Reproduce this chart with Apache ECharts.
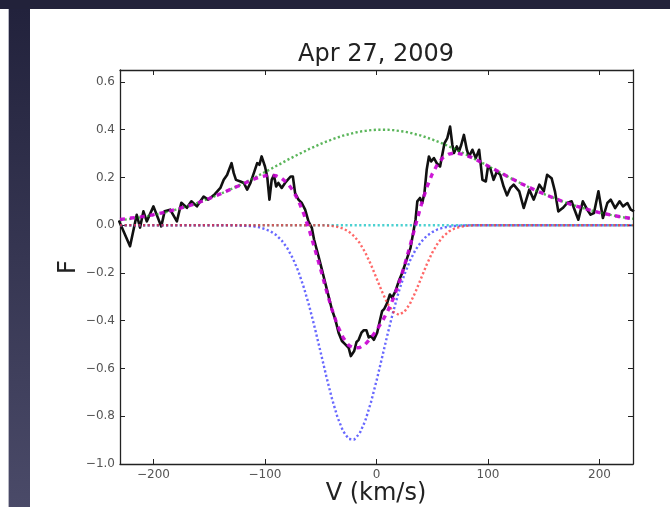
<!DOCTYPE html>
<html>
<head>
<meta charset="utf-8">
<script src="https://cdn.jsdelivr.net/npm/echarts@6/dist/echarts.min.js"></script>
<style>
html,body{margin:0;padding:0;background:#fff;}
#wrap{position:relative;width:670px;height:507px;overflow:hidden;background:#fff;}
#topband{position:absolute;left:0;top:0;width:670px;height:9px;background:#22223a;}
#leftband{position:absolute;left:8px;top:9px;width:21px;height:498px;background:linear-gradient(#22223c,#4a4a68);border-left:1px solid #b8b8c4;}
#chart{position:absolute;left:0;top:0;width:670px;height:507px;}
</style>
</head>
<body>
<div id="wrap">
<div id="topband"></div>
<div id="leftband"></div>
<div id="chart"></div>
</div>
<script>
// Observed spectrum (black)
const velObs = [-231,-221,-215,-212,-209,-206,-200,-193,-190,-185,-179,-175,-170,-166,-161,-155,-151,-145,-140,-137,-134,-130,-128,-126,-122,-119,-116,-113,-110,-107,-105,-103,-100,-98,-96,-94,-92,-90,-88,-85,-82,-77,-75,-73,-70,-67,-64,-61,-58,-56,-52,-49,-46,-43,-40,-37,-34,-31,-28,-25,-23,-20,-18,-16,-13.5,-11.4,-9,-7,-4.8,-2.4,0.6,3,5,7,9.6,12,14,17,20,23,27,30.5,35,36.6,39,41,43,45,47,49,51.5,54,57,59,61,63.5,66,68,69.5,72,74,76,78.4,81,83,86,89,92,95,98,100,102,105,108,111,114,117,120,123,128,132,137,141,146,150,153,157,160,163,167,171,175,177,181,185,189,192,195,199,203,207,210,214,218,221,225,228,231];
const fluxObs = [0.02,-0.088,0.044,-0.01,0.058,0.016,0.079,-0.005,0.058,0.065,0.016,0.094,0.073,0.10,0.079,0.12,0.107,0.13,0.156,0.19,0.21,0.26,0.218,0.19,0.183,0.177,0.149,0.177,0.218,0.26,0.253,0.288,0.246,0.204,0.107,0.19,0.21,0.162,0.177,0.156,0.177,0.204,0.204,0.135,0.107,0.093,0.065,0.016,-0.011,-0.06,-0.13,-0.185,-0.241,-0.297,-0.353,-0.394,-0.45,-0.485,-0.499,-0.513,-0.548,-0.527,-0.49,-0.48,-0.45,-0.44,-0.44,-0.47,-0.465,-0.48,-0.45,-0.40,-0.36,-0.35,-0.325,-0.29,-0.304,-0.276,-0.234,-0.2,-0.144,-0.095,0.023,0.1,0.114,0.093,0.135,0.232,0.288,0.267,0.281,0.26,0.246,0.295,0.344,0.365,0.413,0.337,0.302,0.33,0.309,0.337,0.378,0.316,0.288,0.316,0.281,0.316,0.19,0.183,0.246,0.239,0.19,0.225,0.211,0.162,0.125,0.156,0.17,0.142,0.072,0.149,0.107,0.17,0.142,0.211,0.197,0.142,0.058,0.072,0.093,0.1,0.072,0.023,0.1,0.065,0.044,0.051,0.142,0.03,0.093,0.107,0.072,0.1,0.079,0.093,0.065,0.058];

// Model components
const velModel = [-230,-220,-210,-200,-190,-180,-170,-160,-150,-140,
  -130,-125,-120,-115,-110,-105,-100,-95,-90,-85,-80,-75,-70,-65,-60,-55,-50,-45,-40,-35,-30,-25,-20,-15,-10,-5,0,5,10,15,20,25,30,35,40,45,50,55,60,65,70,75,80,85,90,
  100,110,120,130,140,150,160,170,180,190,200,210,220,230];
const greenComp = [0.021,0.027,0.034,0.043,0.053,0.065,0.079,0.094,0.112,0.131,
  0.152,0.163,0.174,0.186,0.198,0.210,0.223,0.235,0.248,0.260,0.273,0.285,0.297,0.308,0.320,0.330,0.341,0.350,0.359,0.367,0.375,0.381,0.387,0.392,0.395,0.398,0.400,0.400,0.400,0.398,0.395,0.392,0.387,0.381,0.375,0.367,0.359,0.350,0.341,0.330,0.320,0.308,0.297,0.285,0.273,
  0.248,0.223,0.198,0.174,0.152,0.131,0.112,0.094,0.079,0.065,0.053,0.043,0.034,0.027];
const blueComp = [0,0,0,0,0,0,0,0,0,0,
  0,-0.001,-0.002,-0.003,-0.005,-0.009,-0.016,-0.026,-0.041,-0.064,-0.096,-0.139,-0.194,-0.263,-0.344,-0.436,-0.534,-0.633,-0.725,-0.804,-0.862,-0.895,-0.898,-0.871,-0.818,-0.742,-0.652,-0.554,-0.455,-0.362,-0.278,-0.207,-0.149,-0.103,-0.070,-0.045,-0.029,-0.017,-0.010,-0.006,-0.003,-0.002,-0.001,0,0,
  0,0,0,0,0,0,0,0,0,0,0,0,0,0];
const redComp = [0,0,0,0,0,0,0,0,0,0,
  0,0,0,0,0,0,0,0,0,0,0,0,0,0,0,0,0,-0.001,-0.003,-0.007,-0.014,-0.026,-0.046,-0.075,-0.115,-0.165,-0.222,-0.279,-0.329,-0.363,-0.375,-0.363,-0.329,-0.279,-0.222,-0.165,-0.115,-0.075,-0.046,-0.026,-0.014,-0.007,-0.003,-0.001,0,
  0,0,0,0,0,0,0,0,0,0,0,0,0,0];
const cyanComp = [0,0,0,0,0,0,0,0,0,0,
  0,0,0,0,0,0,0,0,0,0,0,0,0,0,0,0,0,0,0,0,0,0,0,0,0,0,0,0,0,0,0,0,0,0,0,0,0,0,0,0,0,0,0,0,0,
  0,0,0,0,0,0,0,0,0,0,0,0,0,0];
const fitModel = [0.024,0.030,0.036,0.044,0.054,0.066,0.079,0.094,0.112,0.131,
  0.152,0.162,0.172,0.183,0.193,0.201,0.207,0.209,0.207,0.196,0.177,0.146,0.103,0.045,-0.024,-0.104,-0.186,-0.272,-0.352,-0.420,-0.470,-0.503,-0.515,-0.512,-0.498,-0.472,-0.440,-0.404,-0.360,-0.308,-0.245,-0.170,-0.088,0.000,0.083,0.157,0.215,0.258,0.285,0.298,0.303,0.299,0.293,0.284,0.273,
  0.248,0.223,0.198,0.174,0.152,0.131,0.112,0.094,0.079,0.065,0.053,0.043,0.034,0.027];

const xTicks = [-200,-100,0,100,200];
const yTicks = [-1.0,-0.8,-0.6,-0.4,-0.2,0.0,0.2,0.4,0.6];
const titleText = 'Apr 27, 2009';
const xName = 'V (km/s)';
const yName = 'F';

function zip(xs, ys){ return xs.map((x,i)=>[x, ys[i]]); }
function fmtX(v){ return String(v).replace('-', '\u2212'); }
function fmtY(v){ return v.toFixed(1).replace('-', '\u2212'); }

const chart = echarts.init(document.getElementById('chart'), null, {renderer:'canvas'});
const FONT = 'DejaVu Sans';
const axisCol = '#222';
const lblCol = '#555';

function dotted(color, z){
  return {type:'line', showSymbol:false, symbol:'none', smooth:false, z:z,
    lineStyle:{color:color, width:2.4, type:[2.2,2.4], cap:'butt'}, silent:true};
}

const option = {
  animation:false,
  backgroundColor:'transparent',
  grid:{left:120, right:37, top:70, bottom:43, containLabel:false},
  xAxis:[{
    type:'value', min:-230, max:230, position:'bottom',
    axisLine:{show:true, onZero:false, lineStyle:{color:axisCol, width:1.3}},
    axisTick:{show:true, inside:true, length:5, customValues:xTicks, lineStyle:{color:axisCol, width:1}},
    axisLabel:{show:true, customValues:xTicks, formatter:fmtX, color:lblCol, fontFamily:FONT, fontSize:12, margin:5},
    splitLine:{show:false}
  },{
    type:'value', min:-230, max:230, position:'top',
    axisLine:{show:true, onZero:false, lineStyle:{color:axisCol, width:1.3}},
    axisTick:{show:true, inside:true, length:5, customValues:xTicks, lineStyle:{color:axisCol, width:1}},
    axisLabel:{show:false}, splitLine:{show:false}
  }],
  yAxis:[{
    type:'value', min:-1.0, max:0.65, position:'left',
    axisLine:{show:true, onZero:false, lineStyle:{color:axisCol, width:1.3}},
    axisTick:{show:true, inside:true, length:5, customValues:yTicks, lineStyle:{color:axisCol, width:1}},
    axisLabel:{show:true, customValues:yTicks, formatter:fmtY, color:lblCol, fontFamily:FONT, fontSize:12, margin:5},
    splitLine:{show:false}
  },{
    type:'value', min:-1.0, max:0.65, position:'right',
    axisLine:{show:true, onZero:false, lineStyle:{color:axisCol, width:1.3}},
    axisTick:{show:true, inside:true, length:5, customValues:yTicks, lineStyle:{color:axisCol, width:1}},
    axisLabel:{show:false}, splitLine:{show:false}
  }],
  series:[
    {name:'obs', type:'line', showSymbol:false, symbol:'none', z:2, data:zip(velObs, fluxObs),
      lineStyle:{color:'#111', width:2.6, join:'round'}},
    Object.assign(dotted('rgba(0,190,190,0.7)', 3), {name:'cyan', data:zip(velModel, cyanComp)}),
    Object.assign(dotted('rgba(40,40,255,0.7)', 4), {name:'blue', data:zip(velModel, blueComp)}),
    Object.assign(dotted('rgba(255,40,40,0.7)', 5), {name:'red', data:zip(velModel, redComp)}),
    Object.assign(dotted('rgba(20,150,20,0.7)', 6), {name:'green', data:zip(velModel, greenComp)}),
    {name:'fit', type:'line', showSymbol:false, symbol:'none', z:7, data:zip(velModel, fitModel), silent:true,
      lineStyle:{color:'rgba(200,0,210,0.9)', width:3.4, type:[5,5], cap:'butt'}}
  ],
  graphic:[
    {type:'text', x:376, y:55, style:{text:titleText, align:'center', verticalAlign:'middle', font:'24px "DejaVu Sans"', fill:'#222'}},
    {type:'text', x:376, y:494, style:{text:xName, align:'center', verticalAlign:'middle', font:'24px "DejaVu Sans"', fill:'#222'}},
    {type:'text', x:69, y:267, rotation:Math.PI/2, style:{text:yName, align:'center', verticalAlign:'middle', font:'24px "DejaVu Sans"', fill:'#222'}}
  ]
};
chart.setOption(option);
</script>
</body>
</html>
